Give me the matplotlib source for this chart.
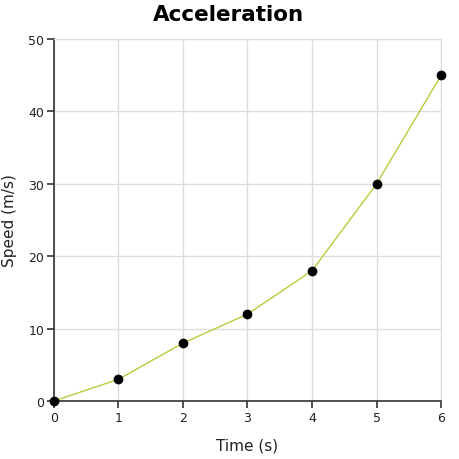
import matplotlib
matplotlib.use("Agg")
import matplotlib.pyplot as plt

time_s = [0, 1, 2, 3, 4, 5, 6]
speed = [0, 3, 8, 12, 18, 30, 45]
x_ticks = [0, 1, 2, 3, 4, 5, 6]
y_ticks = [0, 10, 20, 30, 40, 50]

fig = plt.figure(figsize=(4.6, 4.6), dpi=100)
ax = fig.add_axes([0.117, 0.126, 0.842, 0.787])

ax.plot(time_s, speed, color="#b8cc3c", linewidth=1.0, zorder=2)
ax.plot(time_s, speed, "o", color="black", markersize=6, zorder=3, clip_on=False)

ax.set_xlim(0, 6)
ax.set_ylim(0, 50)
ax.set_xticks(x_ticks)
ax.set_yticks(y_ticks)
ax.grid(True, color="#dddddd", linewidth=1.0)
ax.set_axisbelow(True)

for s in ("top", "right"):
    ax.spines[s].set_color("#dddddd")
for s in ("left", "bottom"):
    ax.spines[s].set_color("#333333")
    ax.spines[s].set_linewidth(1.2)

ax.tick_params(direction="out", length=5, width=1.2, color="#333333",
               labelsize=9, labelcolor="#222222", pad=2)
ax.set_xlabel("Time (s)", fontsize=11, color="#222222", labelpad=10)
ax.set_ylabel("Speed (m/s)", fontsize=11, color="#222222", labelpad=8)

fig.text(0.497, 1 - 21 / 460, "Acceleration", ha="center", va="baseline",
         fontsize=15.5, fontweight="bold")

fig.savefig("out.png", dpi=100)
